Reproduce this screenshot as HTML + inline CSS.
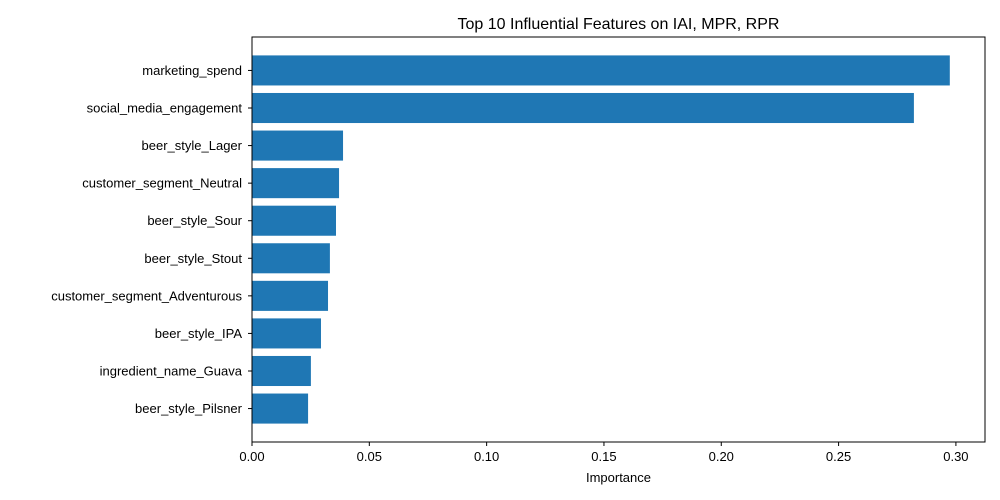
<!DOCTYPE html>
<html><head><meta charset="utf-8"><style>body{margin:0;background:#fff}svg{display:block;font-family:"Liberation Sans","DejaVu Sans",sans-serif}</style></head>
<body>
<svg id="chart" width="1000" height="500"></svg>
<script>
const categories=["marketing_spend","social_media_engagement","beer_style_Lager","customer_segment_Neutral","beer_style_Sour","beer_style_Stout","customer_segment_Adventurous","beer_style_IPA","ingredient_name_Guava","beer_style_Pilsner"];
const importance=[0.2974,0.2821,0.0388,0.0371,0.0358,0.0332,0.0324,0.0294,0.0251,0.0239];
const xTicks=[0,0.05,0.10,0.15,0.20,0.25,0.30];
const xTickLabels=["0.00","0.05","0.10","0.15","0.20","0.25","0.30"];
const NS="http://www.w3.org/2000/svg";
const svg=document.getElementById('chart');
const L=252,R=985,T=37,B=442,xmax=0.3124;
const x=v=>L+v/xmax*(R-L);
const n=categories.length;
const lo=-0.4-0.05*(n-1+0.8), hi=n-1+0.4+0.05*(n-1+0.8);
const step=(B-T)/(hi-lo);
const y=i=>T+(i-lo)*step;
function mk(t,a,p){const e=document.createElementNS(NS,t);for(const k in a)e.setAttribute(k,a[k]);(p||svg).appendChild(e);return e;}
const bars=mk('g',{});


categories.forEach((c,i)=>{
 const r=mk('rect',{x:L,y:y(i)-step*0.4,width:x(importance[i])-L,height:step*0.8,fill:'#1f77b4'},bars);
 
 
 mk('line',{x1:L-4,x2:L,y1:y(i),y2:y(i),stroke:'#000'});
 const t=mk('text',{x:L-10,y:y(i)+4.5,'text-anchor':'end','font-size':13});
 t.textContent=c;
 
 
});
xTicks.forEach((v,i)=>{
 mk('line',{x1:x(v),x2:x(v),y1:B,y2:B+4,stroke:'#000'});
 const t=mk('text',{x:x(v),y:B+19,'text-anchor':'middle','font-size':13});
 t.textContent=xTickLabels[i];
 
 
});
const fr=mk('rect',{x:L,y:T,width:R-L,height:B-T,fill:'none',stroke:'#000','stroke-width':1});


const xt=mk('text',{x:(L+R)/2,y:482,'text-anchor':'middle','font-size':13});
xt.textContent='Importance';


const tt=mk('text',{x:(L+R)/2,y:29,'text-anchor':'middle','font-size':16});
tt.textContent='Top 10 Influential Features on IAI, MPR, RPR';


</script>
</body></html>
